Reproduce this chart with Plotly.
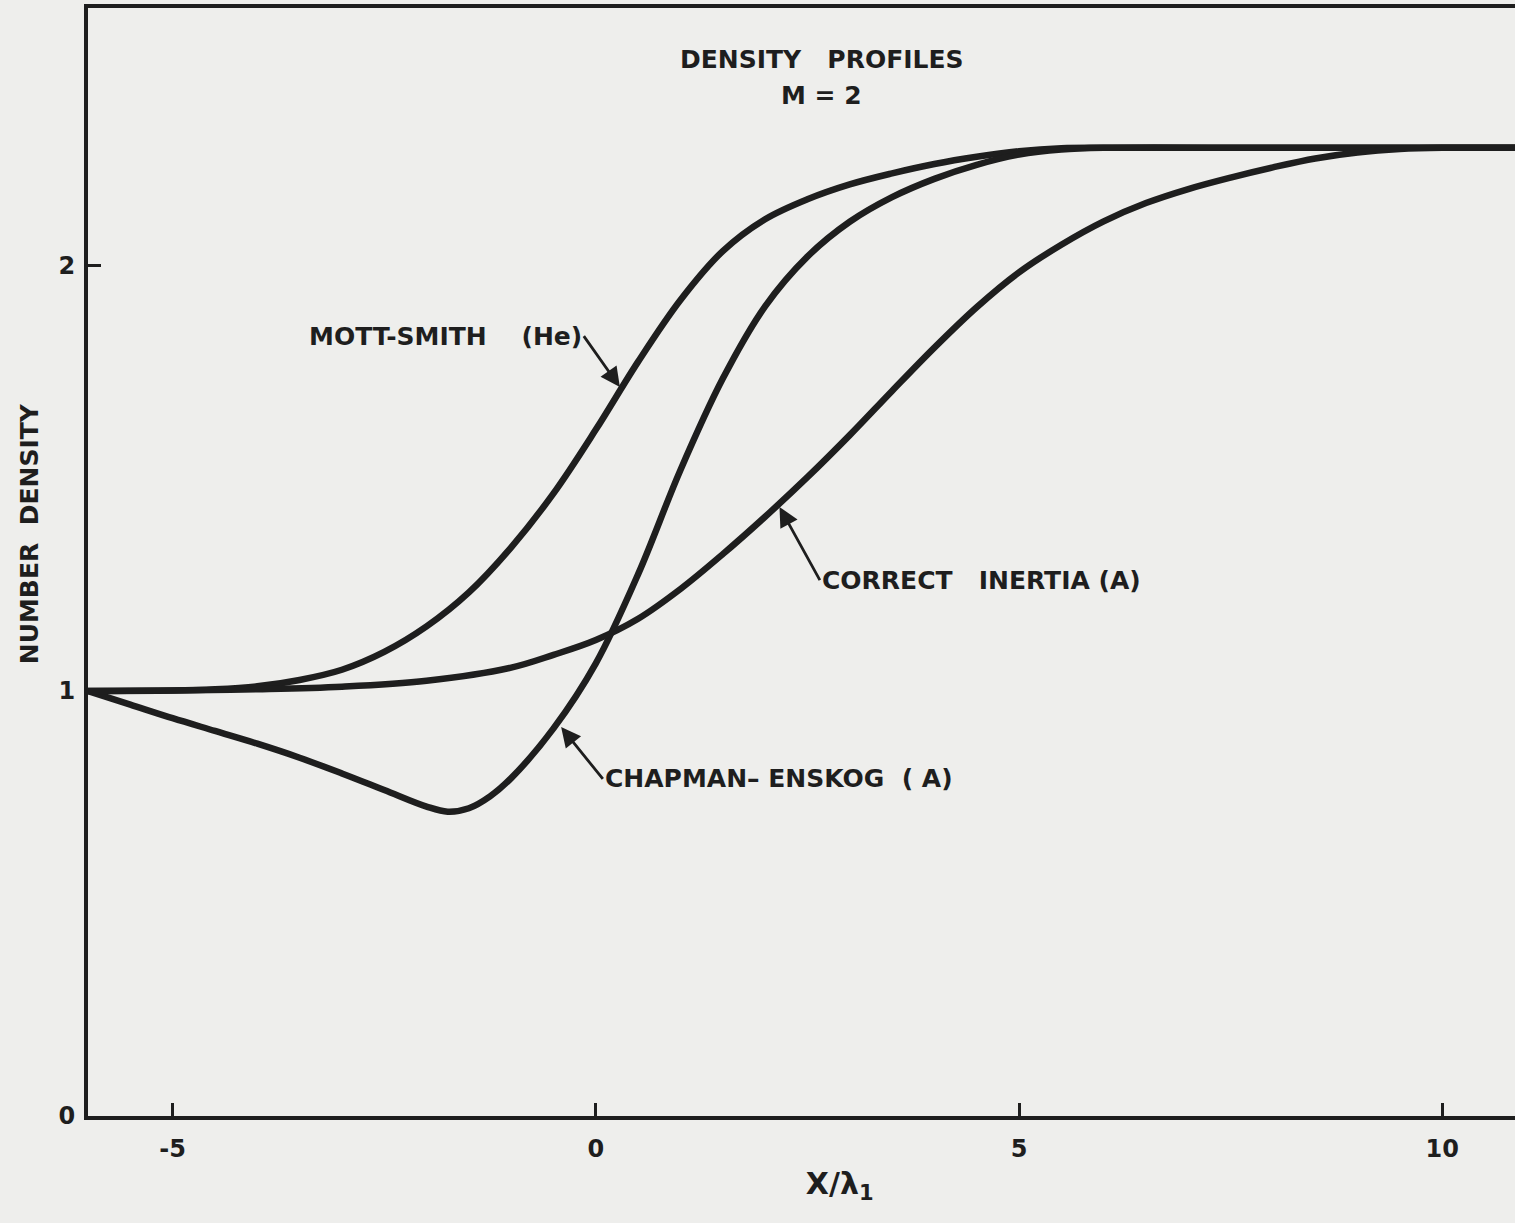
import plotly.graph_objects as go

# ---- data ----
mott_x = [-6.0, -5.0, -4.5, -4.0, -3.5, -3.0, -2.5, -2.0, -1.5, -1.0, -0.5, 0.0, 0.5, 1.0,
          1.5, 2.0, 2.5, 3.0, 3.5, 4.0, 4.5, 5.0, 5.5, 6.0, 8.0, 10.9]
mott_y = [1.000, 1.001, 1.004, 1.011, 1.026, 1.050, 1.092, 1.152, 1.232, 1.338, 1.465, 1.615, 1.775, 1.920,
          2.035, 2.110, 2.157, 2.192, 2.218, 2.240, 2.257, 2.270, 2.277, 2.278, 2.278, 2.278]

ce_x = [-6.0, -5.5, -5.0, -4.5, -4.0, -3.5, -3.0, -2.5, -2.0, -1.75, -1.5, -1.25, -1.0, -0.5, 0.0,
        0.5, 1.0, 1.5, 2.0, 2.5, 3.0, 3.5, 4.0, 4.5, 5.0, 5.5, 6.0, 8.0, 10.9]
ce_y = [1.000, 0.968, 0.936, 0.906, 0.876, 0.843, 0.806, 0.767, 0.728, 0.716, 0.724, 0.752, 0.795, 0.912, 1.065,
        1.275, 1.520, 1.735, 1.905, 2.022, 2.104, 2.162, 2.205, 2.238, 2.262, 2.274, 2.278, 2.278, 2.278]

ci_x = [-6.0, -5.0, -4.0, -3.0, -2.0, -1.0, -0.5, 0.0, 0.5, 1.0, 1.5, 2.0, 2.5, 3.0, 3.5, 4.0, 4.5,
        5.0, 5.5, 6.0, 6.5, 7.0, 7.5, 8.0, 8.5, 9.0, 9.5, 10.0, 10.9]
ci_y = [1.000, 1.001, 1.004, 1.010, 1.024, 1.055, 1.085, 1.120, 1.170, 1.240, 1.322, 1.410, 1.503, 1.602, 1.706,
        1.808, 1.903, 1.985, 2.050, 2.105, 2.148, 2.181, 2.208, 2.232, 2.253, 2.267, 2.275, 2.278, 2.278]

x_ticks = [-5, 0, 5, 10]
x_tick_text = ["-5", "0", "5", "10"]
y_ticks = [0, 1, 2]
y_tick_text = ["0", "1", "2"]

INK = "#1e1e1e"
BG = "#eeeeec"
FONT = "DejaVu Sans, sans-serif"

fig = go.Figure()
for xs, ys, name in [(mott_x, mott_y, "MOTT-SMITH (He)"),
                     (ce_x, ce_y, "CHAPMAN-ENSKOG (A)"),
                     (ci_x, ci_y, "CORRECT INERTIA (A)")]:
    fig.add_trace(go.Scatter(x=xs, y=ys, mode="lines", name=name,
                             line=dict(color=INK, width=6.5, shape="spline", smoothing=1.0)))

# title texts
for x, y, t in [(2.67, 2.485, "DENSITY   PROFILES"), (2.67, 2.402, "M = 2")]:
    fig.add_annotation(x=x, y=y, xref="x", yref="y", text="<b>%s</b>" % t, showarrow=False,
                       xanchor="center", yanchor="middle",
                       font=dict(family=FONT, size=25, color=INK))

# curve labels with arrows: (head x, head y, tail x, tail y, text, xanchor)
curve_labels = [
    (0.284, 1.715, -0.142, 1.835, "MOTT-SMITH    (He)", "right"),
    (2.17, 1.433, 2.647, 1.261, "CORRECT   INERTIA (A)", "left"),
    (-0.41, 0.915, 0.083, 0.793, "CHAPMAN– ENSKOG  ( A)", "left"),
]
for x, y, ax, ay, t, xa in curve_labels:
    fig.add_annotation(x=x, y=y, ax=ax, ay=ay, xref="x", yref="y", axref="x", ayref="y",
                       text="<b>%s</b>" % t, xanchor=xa, yanchor="middle",
                       showarrow=True, arrowhead=2, arrowsize=1.4, arrowwidth=2.8,
                       arrowcolor=INK, standoff=0, startstandoff=0,
                       font=dict(family=FONT, size=25, color=INK))

fig.update_layout(
    width=1515, height=1223,
    margin=dict(l=88, r=0, t=8, b=107),
    paper_bgcolor=BG, plot_bgcolor=BG,
    showlegend=False,
    font=dict(family=FONT, size=24, color=INK),
)
fig.update_xaxes(range=[-6.0, 10.86], showgrid=False, zeroline=False,
                 showline=True, linecolor=INK, linewidth=4, mirror=True,
                 ticks="inside", ticklen=13, tickwidth=3, tickcolor=INK,
                 tickvals=x_ticks, ticktext=["<b>%s</b>" % t for t in x_tick_text],
                 ticklabelstandoff=8, automargin=False,
                 tickfont=dict(family=FONT, size=24, color=INK),
                 title=dict(text="&nbsp;" * 8 + "<b>X/λ<sub>1</sub></b>", standoff=12,
                            font=dict(family=FONT, size=30, color=INK)))
fig.update_yaxes(range=[0, 2.607], showgrid=False, zeroline=False,
                 showline=True, linecolor=INK, linewidth=4, mirror=False,
                 ticks="inside", ticklen=13, tickwidth=3, tickcolor=INK,
                 tickvals=y_ticks, ticktext=["<b>%s</b>" % t for t in y_tick_text],
                 ticklabelstandoff=4, automargin=False,
                 tickfont=dict(family=FONT, size=24, color=INK),
                 title=dict(text="&nbsp;" * 7 + "<b>NUMBER  DENSITY</b>", standoff=14,
                            font=dict(family=FONT, size=25, color=INK)))

fig.write_html("out.html", config={"displayModeBar": False},
               post_script="document.body.style.margin='0px';document.body.style.background='%s';" % BG)
